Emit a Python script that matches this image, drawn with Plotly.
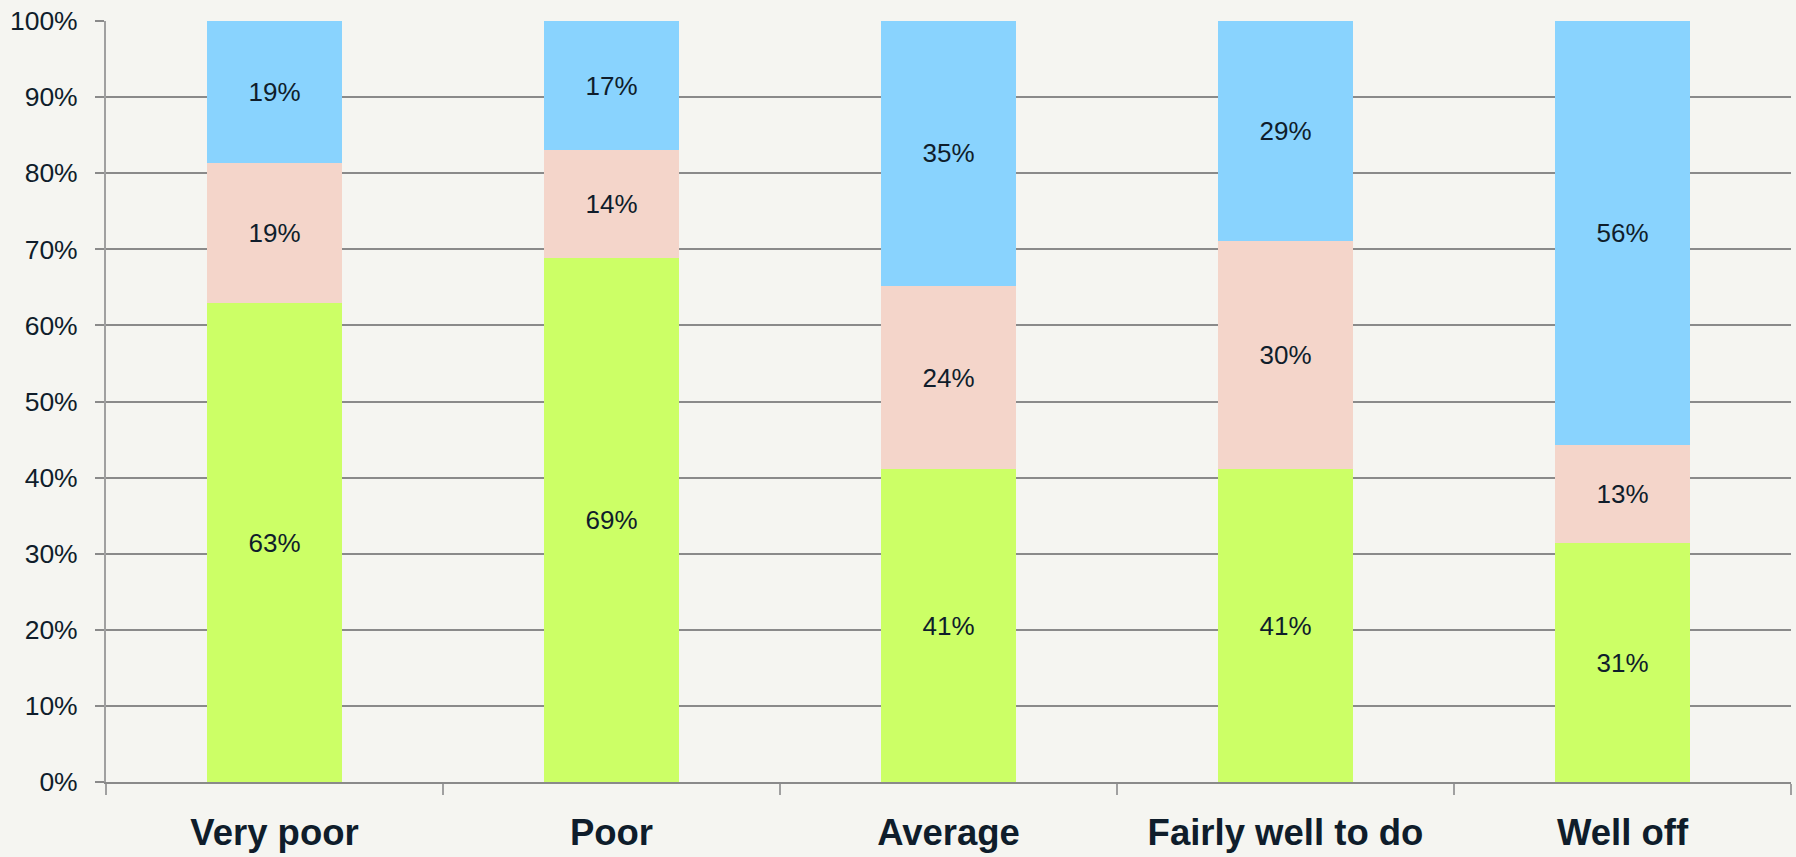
import plotly.graph_objects as go

categories = ["Very poor", "Poor", "Average", "Fairly well to do", "Well off"]
green_vals = [62.9, 68.9, 41.1, 41.1, 31.4]
pink_vals = [18.5, 14.1, 24.1, 30.0, 12.9]
blue_vals = [18.6, 17.0, 34.8, 28.9, 55.7]
green_labels = ["63%", "69%", "41%", "41%", "31%"]
pink_labels = ["19%", "14%", "24%", "30%", "13%"]
blue_labels = ["19%", "17%", "35%", "29%", "56%"]
y_ticks = [0, 10, 20, 30, 40, 50, 60, 70, 80, 90, 100]
y_tick_labels = [f"{v}%" for v in y_ticks]

FONT = "Liberation Sans, Arial, sans-serif"
TXT = "#0f1d2b"
BG = "#f5f5f1"

fig = go.Figure()
for vals, labels, color in [
    (green_vals, green_labels, "#ccff66"),
    (pink_vals, pink_labels, "#f4d5ca"),
    (blue_vals, blue_labels, "#89d3fe"),
]:
    fig.add_trace(go.Bar(
        x=categories, y=vals, text=labels,
        marker=dict(color=color, line=dict(width=0)),
        textposition="inside", insidetextanchor="middle", textangle=0,
        textfont=dict(family=FONT, size=26, color=TXT),
        width=0.4, hoverinfo="skip",
    ))

fig.update_layout(
    barmode="stack",
    width=1796, height=857,
    margin=dict(l=106, r=5, t=21, b=75),
    paper_bgcolor=BG, plot_bgcolor=BG,
    showlegend=False,
    uniformtext=dict(minsize=26, mode="show"),
    font=dict(family=FONT, color=TXT),
)
fig.update_yaxes(
    range=[0, 100], tickvals=y_ticks, ticktext=y_tick_labels,
    showgrid=True, gridcolor="#8a8a8a", gridwidth=1.5,
    showline=True, linecolor="#a0a0a0", linewidth=2,
    ticks="outside", ticklen=9, tickcolor="#8a8a8a", tickwidth=1.5,
    tickfont=dict(family=FONT, size=26.5, color=TXT),
    ticklabelstandoff=12, zeroline=False, automargin=False,
)
fig.update_xaxes(
    showline=True, linecolor="#8a8a8a", linewidth=2,
    ticks="outside", tickson="boundaries", ticklen=11, tickcolor="#a0a0a0", tickwidth=2,
    tickfont=dict(family=FONT, size=36.5, color=TXT, weight="bold"),
    ticklabelstandoff=17, automargin=False,
)
fig.write_html("out.html")
